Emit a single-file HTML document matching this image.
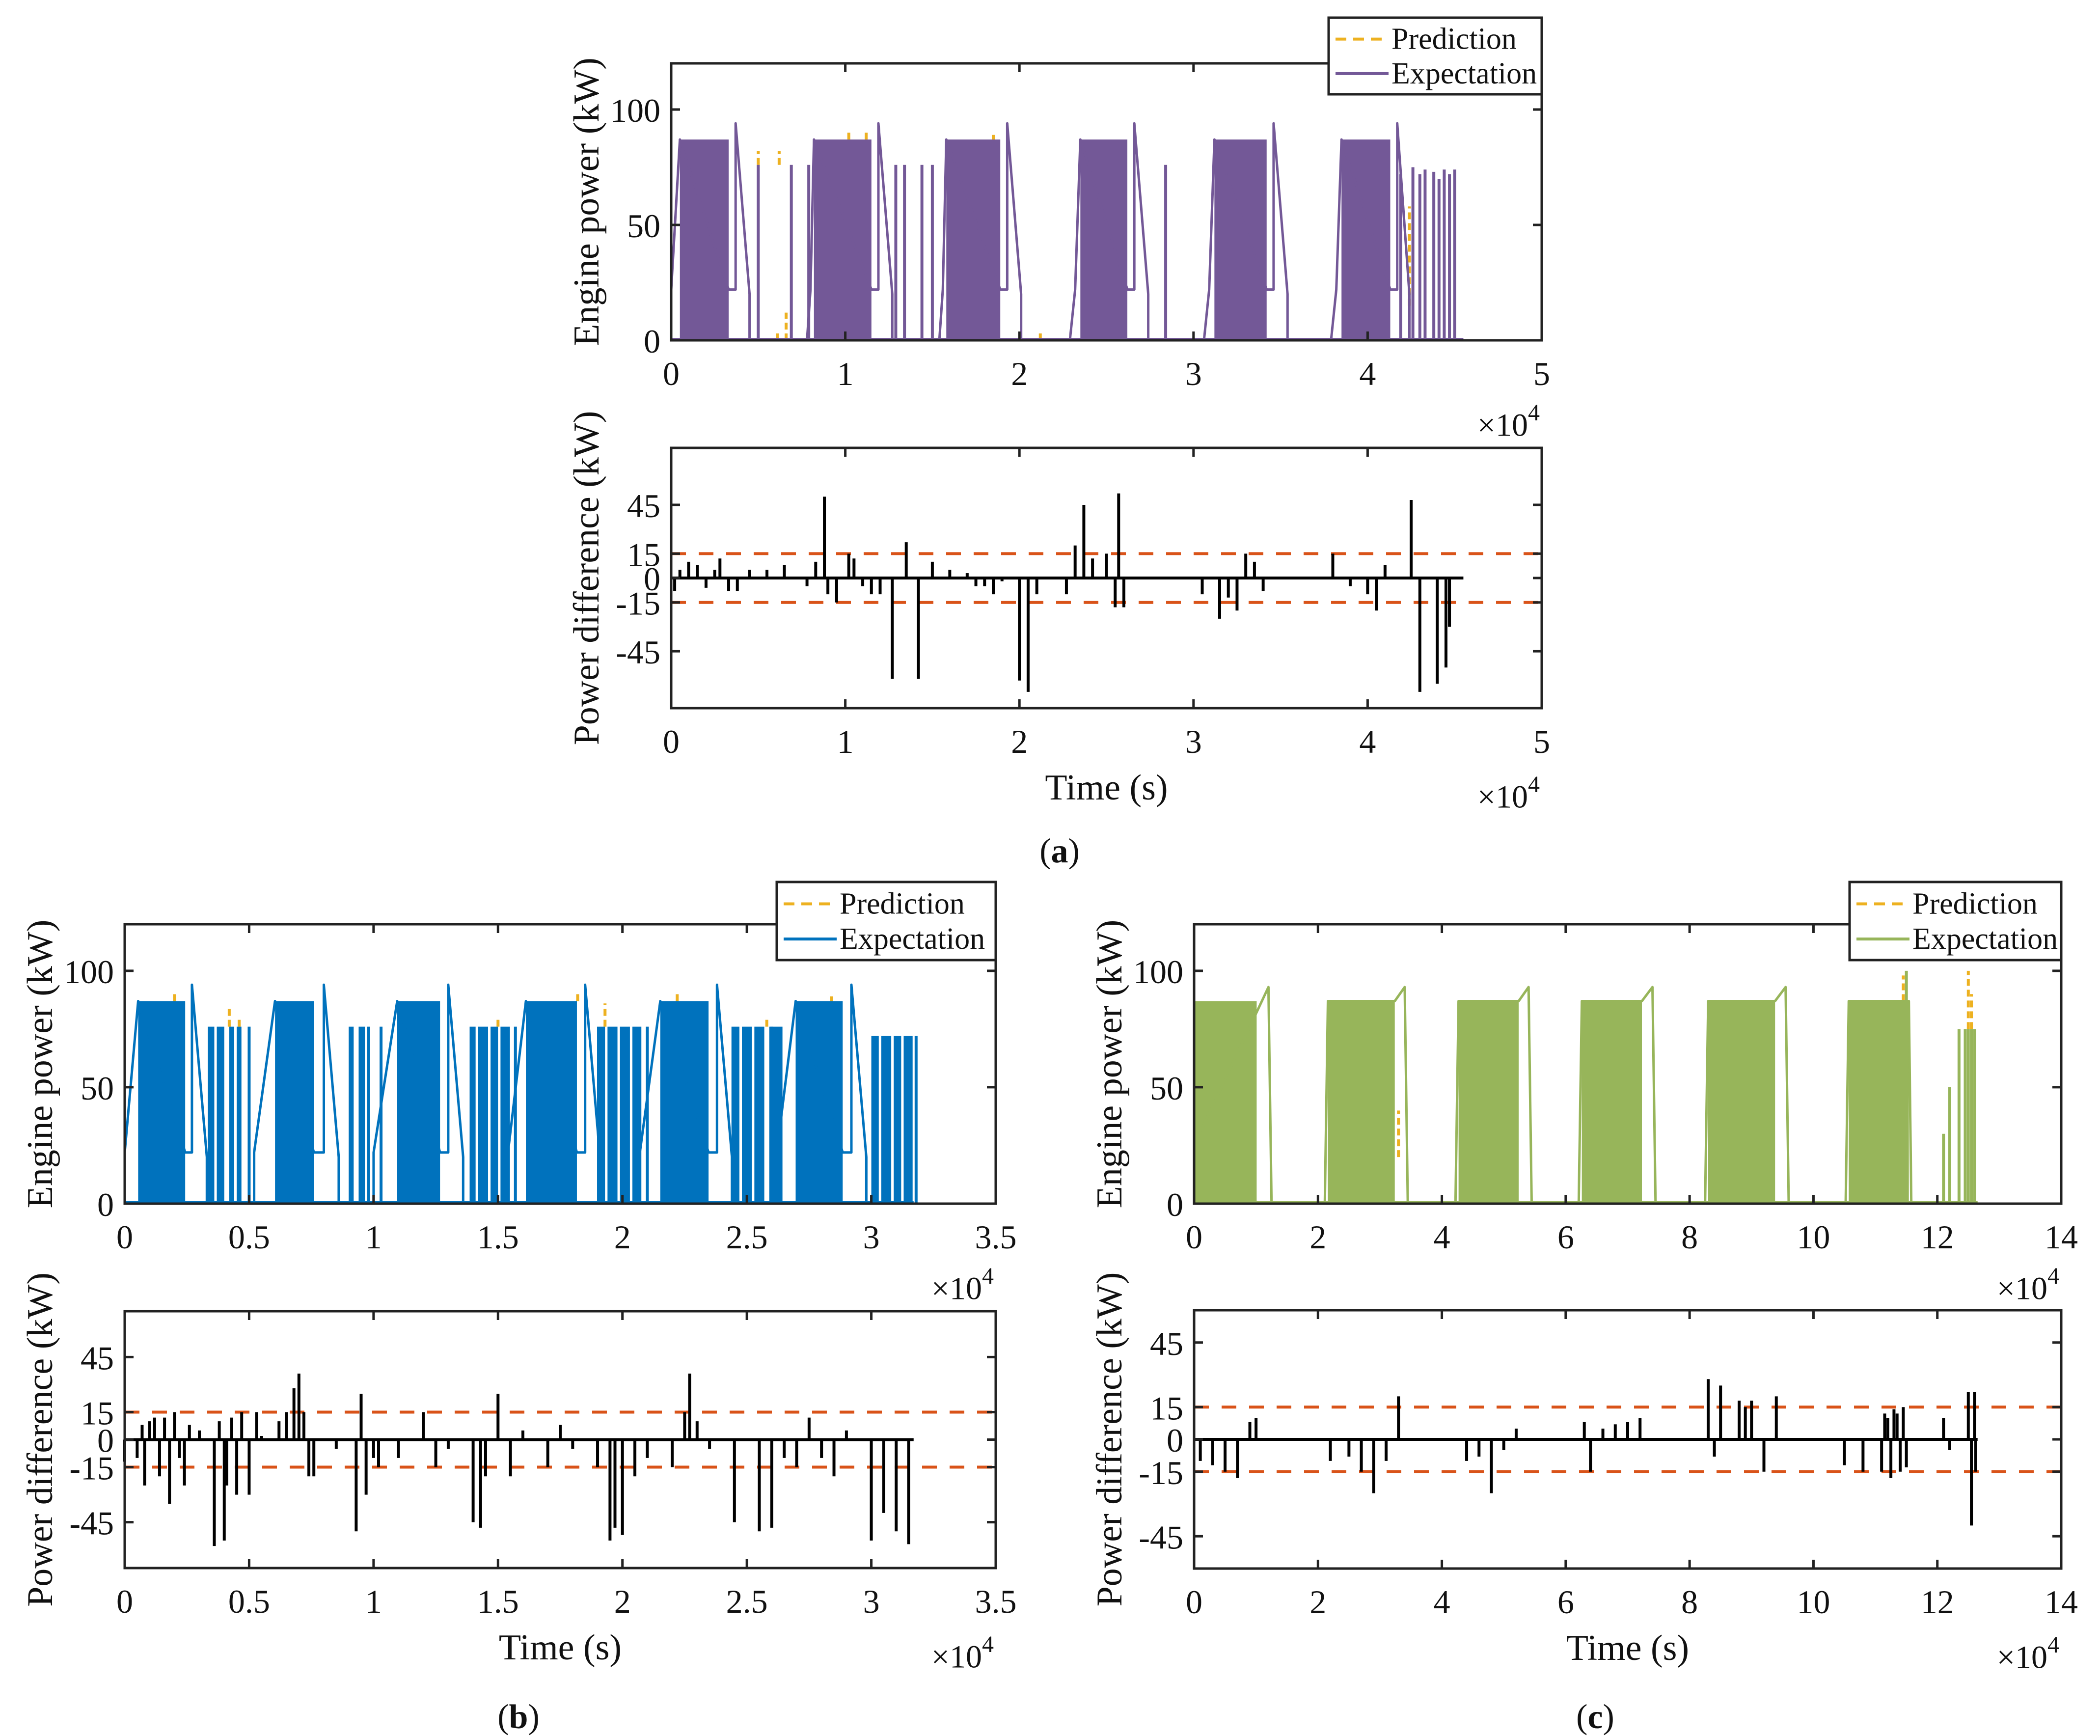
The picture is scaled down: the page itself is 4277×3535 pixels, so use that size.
<!DOCTYPE html>
<html><head><meta charset="utf-8"><title>Engine power prediction</title>
<style>html,body{margin:0;padding:0;background:#fff}svg{display:block}text{font-family:"Liberation Serif",serif;fill:#111}</style>
</head><body>
<svg id="fig" xmlns="http://www.w3.org/2000/svg" width="4277" height="3535" viewBox="0 0 4277 3535">
<rect width="4277" height="3535" fill="#fff"/>
</svg>
<script>
// ---------- Panel (a) data (time in 1e4 s, power kW) ----------
const aBlockStart=[0.05,0.82,1.58,2.35,3.12,3.85];
const aBlockEnd=[0.33,1.15,1.89,2.62,3.42,4.13];
const aBlockLevel=[87,87,87,87,87,87];
const aLineT=[0,0,0.05,0.33,0.37,0.37,0.45,0.45,0.78,0.80,0.82,1.15,1.19,1.19,1.27,1.27,1.54,1.56,1.58,1.89,1.93,1.93,2.01,2.01,2.29,2.32,2.35,2.62,2.66,2.66,2.74,2.74,3.06,3.09,3.12,3.42,3.46,3.46,3.54,3.54,3.79,3.82,3.85,4.13,4.17,4.17,4.24,4.24,4.55];
const aLineV=[0,22,87,22,22,94,20,0,0,22,87,22,22,94,20,0,0,22,87,22,22,94,20,0,0,22,87,22,22,94,20,0,0,22,87,22,22,94,20,0,0,22,87,22,22,94,20,0,0];
const aSpikeT=[0.5,0.69,0.79,1.29,1.34,1.44,1.5,2.84,4.19,4.26,4.3,4.33,4.38,4.41,4.44,4.47,4.5];
const aSpikeV=[76,76,76,76,76,76,76,76,72,75,72,74,73,70,74,72,74];
const aPredT=[0.5,0.66,0.61,0.62,1.02,1.12,1.85,2.12,4.24];
const aPredLo=[76,0,0,76,87,87,87,0,15];
const aPredHi=[82,12,3,82,91,90,89,3,58];
const aDiffT=[0.02,0.05,0.1,0.15,0.2,0.25,0.28,0.33,0.38,0.45,0.55,0.65,0.78,0.83,0.88,0.9,0.95,1.02,1.05,1.1,1.15,1.2,1.27,1.35,1.42,1.5,1.6,1.7,1.75,1.8,1.85,1.9,2.0,2.05,2.1,2.27,2.32,2.37,2.42,2.5,2.55,2.57,2.6,3.05,3.15,3.2,3.25,3.3,3.35,3.4,3.8,3.9,4.0,4.05,4.1,4.25,4.3,4.4,4.45,4.47];
const aDiffV=[-8,5,10,8,-6,5,12,-8,-8,5,5,8,-5,10,50,-10,-15,15,12,-5,-10,-10,-62,22,-62,10,5,3,-5,-5,-10,-2,-63,-70,-10,-10,20,45,12,15,-18,52,-18,-10,-25,-12,-20,15,10,-8,15,-5,-10,-20,8,48,-70,-65,-55,-30];

// ---------- Panel (b) data ----------
const bBlockStart=[0.054,0.604,1.095,1.612,2.152,2.696,0.334,0.37,0.42,0.45,0.90,0.94,1.386,1.42,1.47,1.51,1.898,1.94,1.99,2.04,2.438,2.48,2.53,2.59,3.0,3.04,3.09,3.13];
const bBlockEnd=[0.243,0.760,1.267,1.817,2.346,2.885,0.36,0.40,0.44,0.469,0.92,0.965,1.41,1.46,1.50,1.548,1.93,1.98,2.03,2.076,2.47,2.52,2.57,2.643,3.03,3.08,3.12,3.166];
const bBlockLevel=[87,87,87,87,87,87,76,76,76,76,76,76,76,76,76,76,76,76,76,76,76,76,76,76,72,72,72,72];
const bLineT=[0,0,0.054,0.243,0.27,0.27,0.33,0.33,0.52,0.52,0.604,0.760,0.80,0.80,0.86,0.86,1.0,1.0,1.095,1.267,1.30,1.30,1.36,1.36,1.54,1.54,1.612,1.817,1.85,1.85,1.91,1.91,2.07,2.07,2.152,2.346,2.38,2.38,2.44,2.44,2.62,2.62,2.696,2.885,2.92,2.92,2.98,2.98,3.17];
const bLineV=[0,22,87,22,22,94,20,0,0,22,87,22,22,94,20,0,0,22,87,22,22,94,20,0,0,22,87,22,22,94,20,0,0,22,87,22,22,94,20,0,0,22,87,22,22,94,20,0,0];
const bSpikeT=[0.5,0.98,1.03,1.57,2.1,2.6,3.18];
const bSpikeV=[76,76,76,76,76,76,72];
const bPredT=[0.2,0.42,0.46,0.95,1.5,1.82,1.93,2.0,2.22,2.58,2.84];
const bPredLo=[87,76,76,0,76,87,76,0,87,76,87];
const bPredHi=[90,84,80,6,80,90,86,5,90,80,89];
const bDiffT=[0.0,0.05,0.07,0.08,0.1,0.12,0.14,0.16,0.18,0.2,0.22,0.24,0.26,0.3,0.36,0.38,0.4,0.41,0.43,0.45,0.47,0.5,0.53,0.55,0.62,0.65,0.68,0.7,0.72,0.74,0.76,0.85,0.93,0.95,0.97,1.0,1.02,1.1,1.2,1.25,1.3,1.4,1.43,1.45,1.5,1.55,1.6,1.7,1.75,1.8,1.9,1.95,1.97,2.0,2.05,2.1,2.2,2.25,2.27,2.3,2.35,2.45,2.55,2.6,2.65,2.7,2.75,2.8,2.85,2.9,3.0,3.05,3.1,3.15];
const bDiffV=[-12,-10,8,-25,10,12,-20,12,-35,15,-10,-25,8,5,-58,10,-55,-25,12,-30,15,-30,15,2,10,15,28,36,15,-20,-20,-5,-50,25,-30,-10,-15,-10,15,-15,-5,-45,-48,-20,25,-20,5,-15,8,-5,-15,-55,-48,-52,-20,-10,-15,15,36,10,-5,-45,-50,-48,-10,-15,12,-10,-20,5,-55,-40,-50,-57];

// ---------- Panel (c) data ----------
const cBlockStart=[0.0,2.16,4.27,6.26,8.3,10.57];
const cBlockEnd=[1.01,3.24,5.24,7.23,9.38,11.54];
const cBlockLevel=[87,87,87,87,87,87];
const cLineT=[0,0,1.2,1.25,2.11,2.16,3.24,3.4,3.45,4.22,4.27,5.24,5.4,5.45,6.21,6.26,7.23,7.4,7.45,8.25,8.3,9.38,9.55,9.6,10.52,10.57,11.54,11.58];
const cLineV=[0,25,93,0,0,87,87,93,0,0,87,87,93,0,0,87,87,93,0,0,87,87,93,0,0,87,87,0];
const cSpikeT=[11.5,12.1,12.2,12.35,12.45,12.5,12.55,12.6];
const cSpikeV=[100,30,50,75,75,75,75,75];
const cPredT=[3.3,7.2,11.45,12.5,12.55];
const cPredLo=[20,20,87,75,75];
const cPredHi=[40,30,98,100,90];
const cDiffT=[0.1,0.3,0.5,0.7,0.9,1.0,2.2,2.5,2.7,2.9,3.1,3.3,4.4,4.6,4.8,5.0,5.2,6.3,6.4,6.6,6.8,7.0,7.2,8.3,8.4,8.5,8.8,8.9,9.0,9.2,9.4,10.5,10.8,11.1,11.15,11.2,11.25,11.3,11.35,11.4,11.45,11.5,12.1,12.2,12.5,12.55,12.6,12.62];
const cDiffV=[-10,-12,-15,-18,8,10,-10,-8,-15,-25,-10,20,-10,-8,-25,-5,5,8,-15,5,7,8,10,28,-8,25,18,15,18,-15,20,-12,-15,-15,12,10,-18,14,12,-15,15,-13,10,-5,22,-40,22,-15];

// ---------- rendering ----------
const NS='http://www.w3.org/2000/svg';
const svg=document.getElementById('fig');
function el(tag,attrs,parent){const e=document.createElementNS(NS,tag);for(const k in attrs)e.setAttribute(k,attrs[k]);(parent||svg).appendChild(e);return e;}
function txt(s,x,y,size,anchor,parent,extra){const t=el('text',Object.assign({x:x,y:y,'font-size':size,'text-anchor':anchor||'middle','dominant-baseline':'central'},extra||{}),parent);t.textContent=s;return t;}

function axesFrame(g,P){
  const xs=v=>P.x0+(v-P.xmin)/(P.xmax-P.xmin)*(P.x1-P.x0);
  const ys=v=>P.y1-(v-P.ymin)/(P.ymax-P.ymin)*(P.y1-P.y0);
  return {xs,ys};
}
function drawTicks(g,P,S){
  const tl=18;
  P.xticks.forEach((v,i)=>{
    const x=S.xs(v);
    const t1=el('line',{x1:x,y1:P.y1,x2:x,y2:P.y1-tl,stroke:'#222','stroke-width':5},g);
    
    
    el('line',{x1:x,y1:P.y0,x2:x,y2:P.y0+tl,stroke:'#222','stroke-width':5},g);
    const lb=txt(P.xlabels[i],x,P.y1+68,68,'middle',g);
    
    
  });
  P.yticks.forEach((v,i)=>{
    const y=S.ys(v);
    const t1=el('line',{x1:P.x0,y1:y,x2:P.x0+tl,y2:y,stroke:'#222','stroke-width':5},g);
    
    
    el('line',{x1:P.x1,y1:y,x2:P.x1-tl,y2:y,stroke:'#222','stroke-width':5},g);
    const lb=txt(String(v),P.x0-22,y+2,68,'end',g);
    
    
  });
}
function drawBox(g,P){
  const r=el('rect',{x:P.x0,y:P.y0,width:P.x1-P.x0,height:P.y1-P.y0,fill:'none',stroke:'#222','stroke-width':5},g);
  
  
}
function ylabel(g,P,s){
  const cx=P.x0-172, cy=(P.y0+P.y1)/2;
  const t=txt(s,cx,cy,74,'middle',g,{transform:'rotate(-90 '+cx+' '+cy+')'});
  
  
}
function multiplier(g,P,dy){
  const t=el('text',{x:P.x1-4,y:P.y1+dy,'font-size':66,'text-anchor':'end','dominant-baseline':'central'},g);
  t.innerHTML='×10<tspan dy="-26" font-size="48">4</tspan>';
  
  
}

function powerPanel(name,P,color,bs,be,bl,lt,lv,st,sv,pt,plo,phi){
  const g=el('g',{});
  
  
  const S=axesFrame(g,P);
  // prediction bits
  for(let i=0;i<pt.length;i++){
    const m=el('line',{x1:S.xs(pt[i]),x2:S.xs(pt[i]),y1:S.ys(plo[i]),y2:S.ys(phi[i]),stroke:'#EDB120','stroke-width':6,'stroke-dasharray':'14 8'},g);
    
    
  }
  // baseline
  el('line',{x1:S.xs(0),x2:S.xs(P.xend),y1:S.ys(0)-2,y2:S.ys(0)-2,stroke:color,'stroke-width':6},g);
  for(let i=0;i<bs.length;i++){
    const r=el('rect',{x:S.xs(bs[i]),y:S.ys(bl[i]),width:S.xs(be[i])-S.xs(bs[i]),height:S.ys(0)-S.ys(bl[i]),fill:color},g);
    
    
  }
  let d='';
  for(let i=0;i<lt.length;i++)d+=(i?'L':'M')+S.xs(lt[i]).toFixed(1)+' '+S.ys(lv[i]).toFixed(1);
  const p=el('path',{d:d,fill:'none',stroke:color,'stroke-width':5,'stroke-linejoin':'round'},g);
  
  
  for(let i=0;i<st.length;i++){
    const l=el('line',{x1:S.xs(st[i]),x2:S.xs(st[i]),y1:S.ys(0),y2:S.ys(sv[i]),stroke:color,'stroke-width':6},g);
    
    
  }
  drawBox(g,P);drawTicks(g,P,S);
  ylabel(g,P,'Engine power (kW)');
  multiplier(g,P,173);
  return g;
}
function diffPanel(name,P,dt,dv){
  const g=el('g',{});
  
  
  const S=axesFrame(g,P);
  [15,-15].forEach(v=>{
    const l=el('line',{x1:P.x0,x2:P.x1,y1:S.ys(v),y2:S.ys(v),stroke:'#D95319','stroke-width':6,'stroke-dasharray':'30 26'},g);
    
    
  });
  const b=el('line',{x1:S.xs(0),x2:S.xs(P.xend),y1:S.ys(0),y2:S.ys(0),stroke:'#000','stroke-width':6},g);
  
  
  for(let i=0;i<dt.length;i++){
    const l=el('line',{x1:S.xs(dt[i]),x2:S.xs(dt[i]),y1:S.ys(0),y2:S.ys(dv[i]),stroke:'#000','stroke-width':6},g);
    
    
  }
  drawBox(g,P);drawTicks(g,P,S);
  ylabel(g,P,'Power difference (kW)');
  const t=txt('Time (s)',(P.x0+P.x1)/2,P.y1+162,74,'middle',g);
  
  
  multiplier(g,P,181);
  return g;
}
function legend(name,x0,x1,y0,y1,color){
  const g=el('g',{});
  
  
  el('rect',{x:x0,y:y0,width:x1-x0,height:y1-y0,fill:'#fff',stroke:'#222','stroke-width':5},g);
  const h=(y1-y0);
  const e1=el('line',{x1:x0+14,x2:x0+122,y1:y0+h*0.28,y2:y0+h*0.28,stroke:'#EDB120','stroke-width':6,'stroke-dasharray':'22 14'},g);
  
  
  const t1=txt('Prediction',x0+128,y0+h*0.28,62,'start',g);
  
  
  const e2=el('line',{x1:x0+14,x2:x0+122,y1:y0+h*0.73,y2:y0+h*0.73,stroke:color,'stroke-width':6},g);
  
  
  const t2=txt('Expectation',x0+128,y0+h*0.73,62,'start',g);
  
  
}
function tag(s,x,y){
  const t=el('text',{x:x,y:y,'font-size':70,'text-anchor':'middle','dominant-baseline':'central'});
  t.innerHTML='(<tspan font-weight="bold">'+s+'</tspan>)';
  
  
}

const lab=a=>a.map(v=>String(v));
const A1={x0:1367,x1:3140,y0:129,y1:693,xmin:0,xmax:5,ymin:0,ymax:120,xend:4.55,xticks:[0,1,2,3,4,5],yticks:[0,50,100]};
A1.xlabels=lab(A1.xticks);
const A2={x0:1367,x1:3140,y0:912,y1:1442,xmin:0,xmax:5,ymin:-80,ymax:80,xend:4.55,xticks:[0,1,2,3,4,5],yticks:[-45,-15,0,15,45]};
A2.xlabels=lab(A2.xticks);
const B1={x0:254,x1:2028,y0:1882,y1:2451,xmin:0,xmax:3.5,ymin:0,ymax:120,xend:3.17,xticks:[0,0.5,1,1.5,2,2.5,3,3.5],yticks:[0,50,100]};
B1.xlabels=lab(B1.xticks);
const B2={x0:254,x1:2028,y0:2670,y1:3193,xmin:0,xmax:3.5,ymin:-70,ymax:70,xend:3.17,xticks:B1.xticks,yticks:[-45,-15,0,15,45]};
B2.xlabels=lab(B2.xticks);
const C1={x0:2432,x1:4198,y0:1882,y1:2451,xmin:0,xmax:14,ymin:0,ymax:120,xend:12.65,xticks:[0,2,4,6,8,10,12,14],yticks:[0,50,100]};
C1.xlabels=lab(C1.xticks);
const C2={x0:2432,x1:4198,y0:2668,y1:3194,xmin:0,xmax:14,ymin:-60,ymax:60,xend:12.65,xticks:C1.xticks,yticks:[-45,-15,0,15,45]};
C2.xlabels=lab(C2.xticks);

powerPanel('panel-a-power',A1,'#735897',aBlockStart,aBlockEnd,aBlockLevel,aLineT,aLineV,aSpikeT,aSpikeV,aPredT,aPredLo,aPredHi);
diffPanel('panel-a-difference',A2,aDiffT,aDiffV);
powerPanel('panel-b-power',B1,'#0072BD',bBlockStart,bBlockEnd,bBlockLevel,bLineT,bLineV,bSpikeT,bSpikeV,bPredT,bPredLo,bPredHi);
diffPanel('panel-b-difference',B2,bDiffT,bDiffV);
powerPanel('panel-c-power',C1,'#97B55A',cBlockStart,cBlockEnd,cBlockLevel,cLineT,cLineV,cSpikeT,cSpikeV,cPredT,cPredLo,cPredHi);
diffPanel('panel-c-difference',C2,cDiffT,cDiffV);
legend('legend-a',2706,3140,36,192,'#735897');
legend('legend-b',1582,2028,1796,1955,'#0072BD');
legend('legend-c',3767,4198,1796,1955,'#97B55A');
tag('a',2158,1733);
tag('b',1056,3496);
tag('c',3249,3496);
</script>
</body></html>
